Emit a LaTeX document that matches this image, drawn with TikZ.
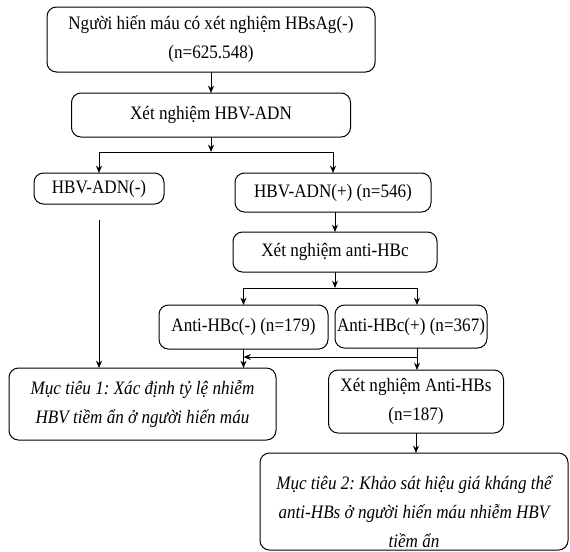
\documentclass[tikz,border=0pt]{standalone}
\usepackage{fontspec}
\setmainfont{Liberation Serif}[FakeStretch=0.9]
\usetikzlibrary{arrows,positioning,calc}
\usetikzlibrary{arrows.meta}
\frenchspacing
\newcommand{\flowfont}{\fontsize{14.25}{21.75}\selectfont}
\tikzset{
	stepbox/.style={draw, rounded corners=2.5mm, align=center, inner sep=0, outer sep=0, font=\flowfont},
	goalbox/.style={stepbox, font=\flowfont\itshape}
}
\begin{document}
\begin{tikzpicture}[->,>={Stealth[length=5.5pt,width=4.5pt]},x=0.75pt,y=-0.75pt,
				line width=0.75pt]
				\useasboundingbox (0,0) rectangle (570,551);
				\node[stepbox, minimum width=246pt, minimum height=48.75pt] (donor) at (211, 39.5) {Người hiến máu có xét nghiệm HBsAg(-)\\(n=625.548)};
				\node[stepbox, minimum width=209.25pt, minimum height=33pt] (testdna) at (211, 115) {Xét nghiệm HBV-ADN};
				\node[stepbox, minimum width=97.5pt, minimum height=23.25pt] (dnaneg) at (99, 188.5) {HBV-ADN(-)};
				\node[stepbox, minimum width=147pt, minimum height=29.25pt] (dnapos) at (333, 192.5) {HBV-ADN(+) (n=546)};
				\node[stepbox, minimum width=153pt, minimum height=30pt] (testhbc) at (335, 252) {Xét nghiệm anti-HBc};
				\node[stepbox, minimum width=126.75pt, minimum height=33pt] (hbcneg) at (243.5, 327) {Anti-HBc(-) (n=179)};
				\node[stepbox, minimum width=114pt, minimum height=32.25pt] (hbcpos) at (411, 326.5) {Anti-HBc(+) (n=367)};
				\node[goalbox, minimum width=200.25pt, minimum height=54pt] (goal1) at (142.5, 404) {Mục tiêu 1: Xác định tỷ lệ nhiễm\\HBV tiềm ẩn ở người hiến máu};
				\node[stepbox, minimum width=131.25pt, minimum height=47.25pt] (testhbs) at (416, 401.5) {Xét nghiệm Anti-HBs\\(n=187)};
				\node[goalbox, minimum width=231pt, minimum height=72.75pt] (goal2) at (414, 501.5) {};
				\node[goalbox, draw=none] (goal2_txt) at (414, 512) {Mục tiêu 2: Khảo sát hiệu giá kháng thể\\anti-HBs ở người hiến máu nhiễm HBV\\tiềm ẩn};
				\coordinate (split1) at (211, 152);
				\coordinate (split2) at (335, 288);
				\coordinate (merge) at (417, 357);
				\draw (donor) -- (testdna);
				\draw (testdna) -- (split1);
				\draw (split1) -| (dnaneg);
				\draw (split1) -| (dnapos);
				\draw ([yshift=-12pt]dnaneg.south) -- (dnaneg.south |- goal1.north);
				\draw (dnapos.south -| testhbc) -- (testhbc);
				\draw (testhbc) -- (split2);
				\draw (split2) -| (hbcneg);
				\draw (split2) -| (merge |- hbcpos.north);
				\draw (hbcneg) -- (hbcneg |- goal1.north);
				\draw (merge |- hbcpos.south) -- (merge |- testhbs.north);
				\draw (merge) -- (merge -| hbcneg);
				\draw (testhbs) -- (testhbs |- goal2.north);
			\end{tikzpicture}
\end{document}
